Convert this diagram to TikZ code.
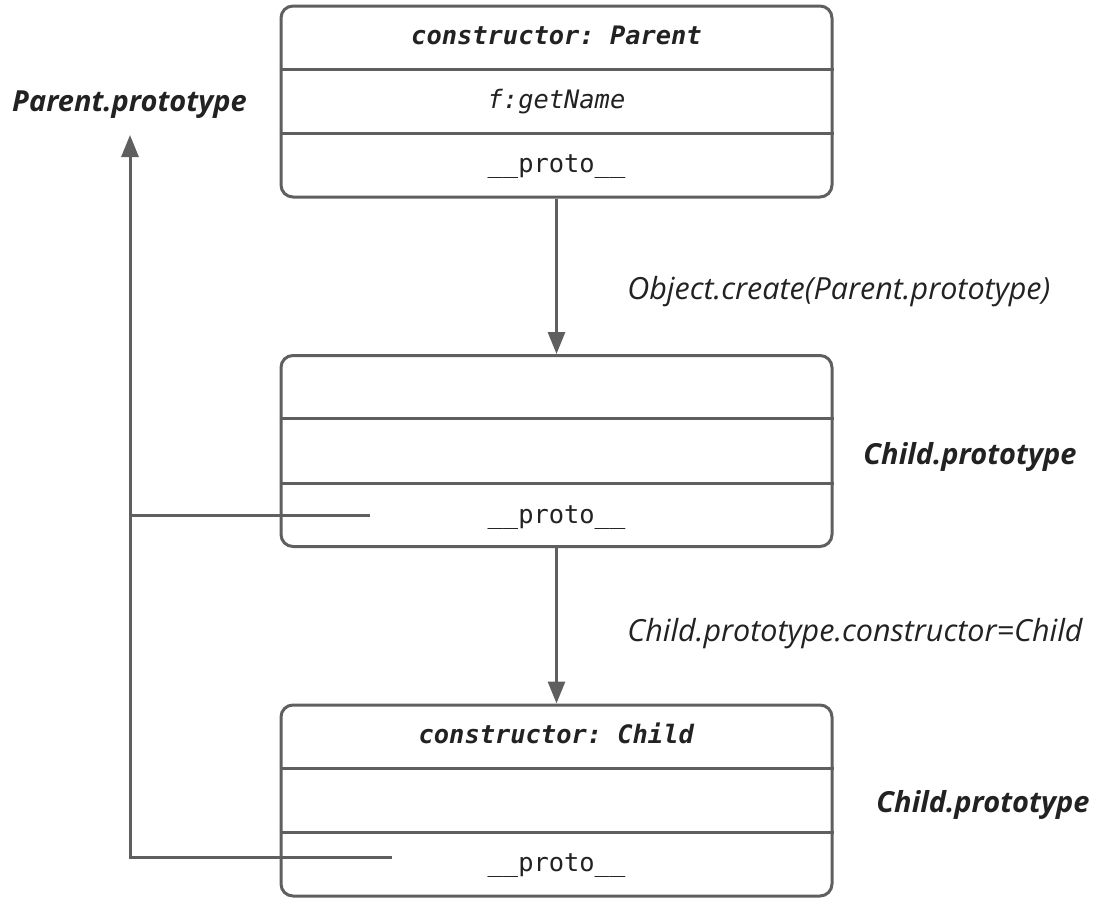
\documentclass[tikz,border=0pt]{standalone}
\usepackage{fontspec}
\setmainfont{Open Sans}
\setmonofont{DejaVu Sans Mono}
\usetikzlibrary{arrows.meta,calc}
\definecolor{linegray}{HTML}{5F5F5F}
\definecolor{textdark}{HTML}{222222}
\tikzset{
	objbox/.style={draw=linegray, line width=3pt, rounded corners=12pt, minimum width=551pt, minimum height=191pt, inner sep=0pt},
	field/.style={font=\fontsize{25.4}{25.4}\selectfont\ttfamily, text=textdark},
	note/.style={font=\fontsize{30.5}{30.5}\selectfont\itshape, text=textdark, anchor=west},
	protoname/.style={font=\fontsize{29}{29}\selectfont\bfseries\itshape, text=textdark},
	link/.style={draw=linegray, line width=3pt, -{Triangle[length=22pt,width=17pt]}},
	plain/.style={draw=linegray, line width=3pt},
}
\begin{document}
\begin{tikzpicture}[x=1pt, y=-1pt]
	\useasboundingbox (0,0) rectangle (1107,902);
	% three objects
	\node[objbox] (parent) at (556.5,101.5) {};
	\node[objbox] (childproto) at (556.5,451) {};
	\node[objbox] (child) at (556.5,800.5) {};
	\foreach \b in {parent, childproto, child}{
		\draw[plain] ($(\b.north west)!1/3!(\b.south west)$) -- ($(\b.north east)!1/3!(\b.south east)$);
		\draw[plain] ($(\b.north west)!2/3!(\b.south west)$) -- ($(\b.north east)!2/3!(\b.south east)$);
	}
	% fields
	\node[field] (pctor) at (556.5,35) {\textbf{\textit{constructor: Parent}}};
	\node[field] (pfn) at (556.5,102) {\textit{f:getName}};
	\node[field] (pproto) at (556.5,167) {\_\_proto\_\_};
	\node[field] (cpproto) at (556.5,518) {\_\_proto\_\_};
	\node[field] (cctor) at (556.5,733) {\textbf{\textit{constructor: Child}}};
	\node[field] (cproto) at (556.5,866) {\_\_proto\_\_};
	% names
	\node[protoname] (parentname) at (129.5,105) {Parent.prototype};
	\node[protoname] (childprotoname) at (970,457) {Child.prototype};
	\node[protoname] (childname) at (983,805) {Child.prototype};
	% arrows between objects
	\draw[link] (parent.south) -- (childproto.north) node[note, pos=0.6, xshift=66pt] (createnote) {Object.create(Parent.prototype)};
	\draw[link] (childproto.south) -- (child.north) node[note, pos=0.55, xshift=66pt] (ctornote) {Child.prototype.constructor=Child};
	% proto chain
	\coordinate (cpend) at (370,515);
	\coordinate (cend) at (392,857);
	\coordinate (chaintip) at (130,135);
	\draw[link] (cend) -| (chaintip);
	\draw[plain] (cpend) -- (cpend -| chaintip);
\end{tikzpicture}
\end{document}
